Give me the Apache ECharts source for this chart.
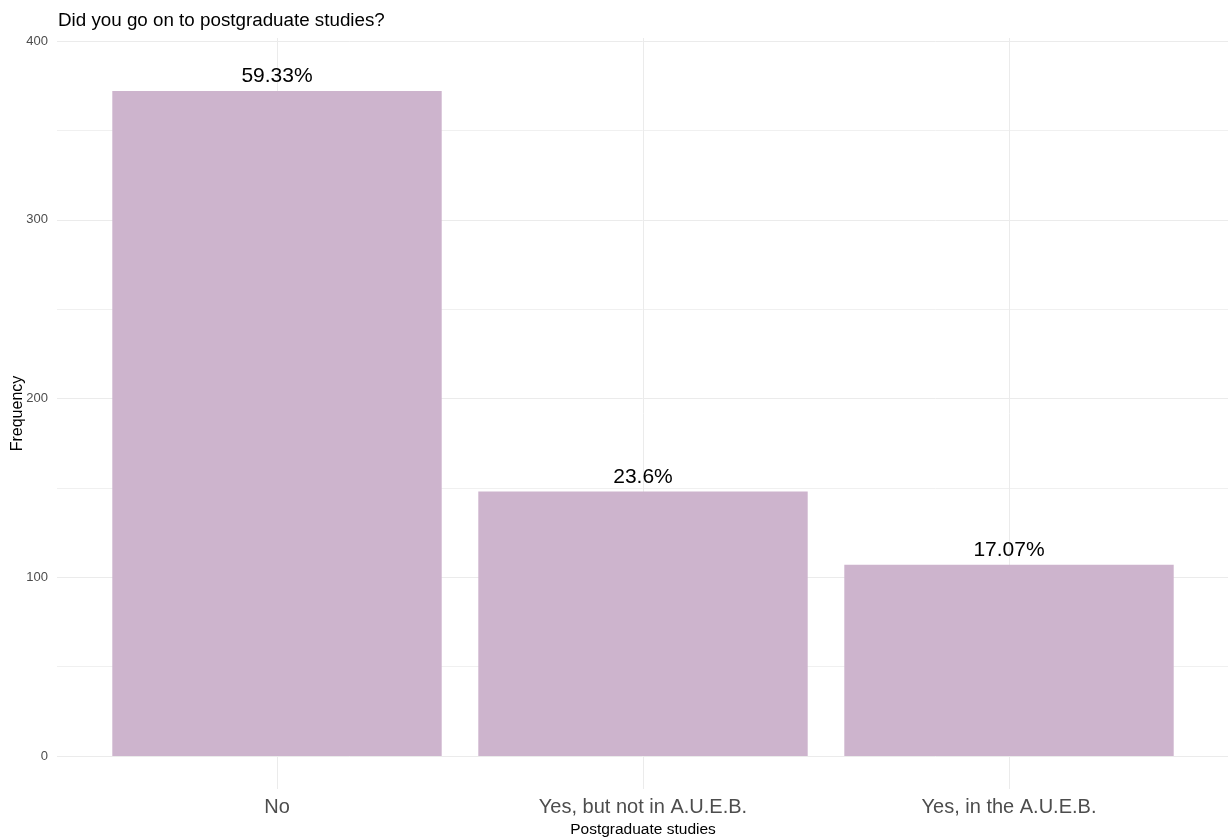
<!DOCTYPE html>
<html>
<head>
<meta charset="utf-8">
<script src="https://cdn.jsdelivr.net/npm/echarts@6/dist/echarts.min.js"></script>
<style>html,body{margin:0;padding:0;background:#fff;}#c{width:1228px;height:840px;}</style>
</head>
<body>
<div id="c"></div>
<script>
const categories = ["No", "Yes, but not in A.U.E.B.", "Yes, in the A.U.E.B."];
const counts = [372, 148, 107];
const percentLabels = ["59.33%", "23.6%", "17.07%"];
const yTicks = [0, 100, 200, 300, 400];
const categoryPositions = [1, 2, 3];

const font = "Liberation Sans, Arial, sans-serif";
const grey = '#ebebeb';
const chart = echarts.init(document.getElementById('c'));
chart.setOption({
  backgroundColor: '#fff',
  animation: false,
  title: {
    text: 'Did you go on to postgraduate studies?',
    left: 58, top: 11, padding: 0,
    textStyle: { fontFamily: font, fontSize: 18.8, fontWeight: 'normal', color: '#000' }
  },
  grid: [
    { left: 57, right: 0, top: 41, bottom: 84, outerBoundsMode: 'none' },      // horizontal gridlines + y labels
    { left: 94, right: 36, top: 41, bottom: 84, outerBoundsMode: 'none' },     // bars
    { left: 277, right: 219, top: 38, bottom: 51, outerBoundsMode: 'none' }    // vertical gridlines
  ],
  xAxis: [
    { gridIndex: 0, type: 'value', show: false, min: 0, max: 1 },
    {
      gridIndex: 1, type: 'category', data: categories,
      axisLine: { show: false }, axisTick: { show: false },
      axisLabel: { fontFamily: font, fontSize: 20, color: '#4d4d4d', margin: 41 },
      splitLine: { show: false },
      name: 'Postgraduate studies', nameLocation: 'middle', nameGap: 66,
      nameTextStyle: { fontFamily: font, fontSize: 15.5, color: '#000' }
    },
    {
      gridIndex: 2, type: 'value', min: categoryPositions[0], max: categoryPositions[categoryPositions.length - 1], interval: 1,
      axisLine: { show: false }, axisTick: { show: false }, axisLabel: { show: false },
      splitLine: { show: true, lineStyle: { color: grey, width: 1 } }
    }
  ],
  yAxis: [
    {
      gridIndex: 0, type: 'value', min: yTicks[0], max: yTicks[yTicks.length - 1], interval: 100,
      axisLine: { show: false }, axisTick: { show: false },
      axisLabel: { fontFamily: font, fontSize: 13, color: '#4d4d4d', margin: 9 },
      splitLine: { show: true, lineStyle: { color: grey, width: 1 } },
      minorTick: { show: false, splitNumber: 2 },
      minorSplitLine: { show: true, lineStyle: { color: '#f0f0f0', width: 1 } }
    },
    { gridIndex: 1, type: 'value', min: yTicks[0], max: yTicks[yTicks.length - 1], show: false, splitLine: { show: false } },
    {
      gridIndex: 2, type: 'value', min: 0, max: 1,
      axisLine: { show: false }, axisTick: { show: false }, axisLabel: { show: false },
      splitLine: { show: false },
      name: 'Frequency', nameLocation: 'middle', nameGap: 251, nameRotate: 90,
      nameTextStyle: { fontFamily: font, fontSize: 16, color: '#000' }
    }
  ],
  series: [{
    type: 'bar', xAxisIndex: 1, yAxisIndex: 1,
    data: counts,
    barWidth: '90%',
    itemStyle: { color: '#CDB4CD' },
    label: {
      show: true, position: 'top', distance: 4,
      formatter: p => percentLabels[p.dataIndex],
      fontFamily: font, fontSize: 21, color: '#000'
    }
  }]
});
</script>
</body>
</html>
